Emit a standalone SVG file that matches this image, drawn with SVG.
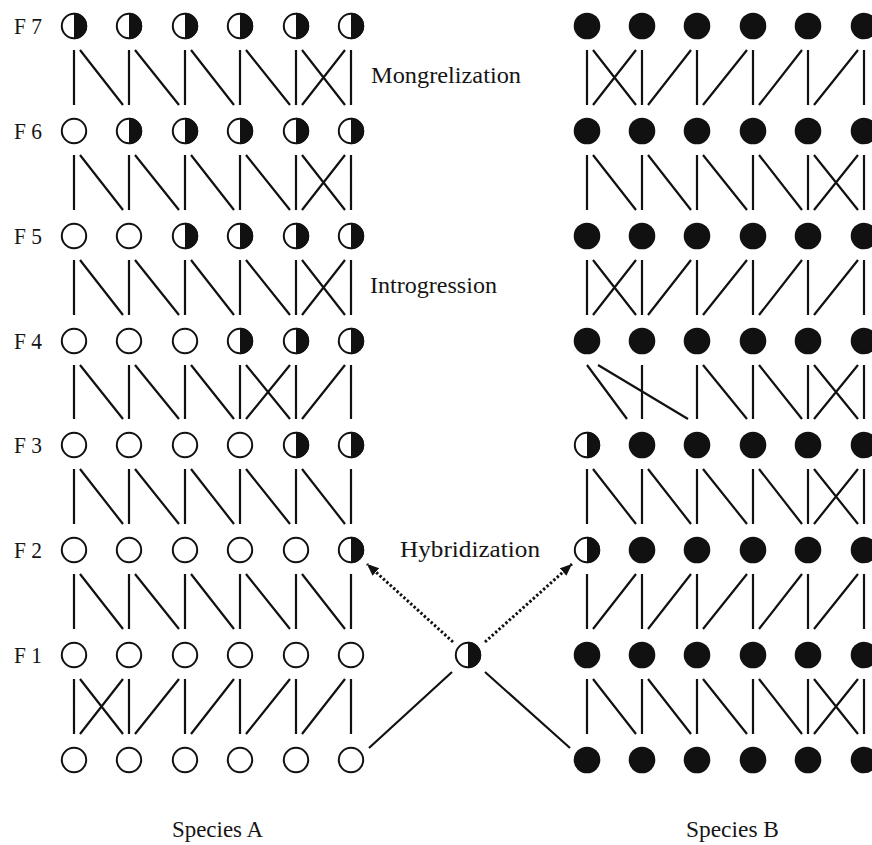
<svg xmlns="http://www.w3.org/2000/svg" width="872" height="845" viewBox="0 0 872 845">
<style>
.ln{fill:none;stroke:#111;stroke-width:2.2;stroke-linecap:butt}
.dot{fill:none;stroke:#111;stroke-width:3;stroke-dasharray:2.4 2.2}
.lab{font-family:"Liberation Serif","Times New Roman",serif;font-size:23px;fill:#151515}
</style>
<defs>
<g id="o"><circle r="12.2" fill="#fff" stroke="#111" stroke-width="2"/></g>
<g id="h"><circle r="12.2" fill="#fff" stroke="#111" stroke-width="2"/><path d="M0 -13.2A13.2 13.2 0 0 1 0 13.2Z" fill="#111"/></g>
<g id="f"><circle r="13.3" fill="#111"/></g>
<marker id="arr" markerUnits="userSpaceOnUse" markerWidth="14" markerHeight="12" refX="12" refY="5" orient="auto"><path d="M0 0L12 5L0 10Z" fill="#111"/></marker>
</defs>
<rect width="872" height="845" fill="#fff"/>
<g id="connectors">
<path class="ln" d="M74 50V105M129 50V105M185 50V105M240 50V105M296 50V105M351 50V105M80 50L123 105M135 50L179 105M191 50L234 105M246 50L290 105M302 50L345 105M302 105L345 50"/>
<path class="ln" d="M74 155V210M129 155V210M185 155V210M240 155V210M296 155V210M351 155V210M80 155L123 210M135 155L179 210M191 155L234 210M246 155L290 210M302 155L345 210M302 210L345 155"/>
<path class="ln" d="M74 260V315M129 260V315M185 260V315M240 260V315M296 260V315M351 260V315M80 260L123 315M135 260L179 315M191 260L234 315M246 260L290 315M302 260L345 315M302 315L345 260"/>
<path class="ln" d="M74 365V419M129 365V419M185 365V419M240 365V419M296 365V419M351 365V419M80 365L123 419M135 365L179 419M191 365L234 419M246 365L290 419M246 419L290 365M302 419L345 365"/>
<path class="ln" d="M74 469V524M129 469V524M185 469V524M240 469V524M296 469V524M351 469V524M80 469L123 524M135 469L179 524M191 469L234 524M246 469L290 524M302 469L345 524"/>
<path class="ln" d="M74 574V629M129 574V629M185 574V629M240 574V629M296 574V629M351 574V629M80 574L123 629M135 574L179 629M191 574L234 629M246 574L290 629M302 574L345 629"/>
<path class="ln" d="M74 679V734M129 679V734M185 679V734M240 679V734M296 679V734M351 679V734M80 679L123 734M80 734L123 679M135 734L179 679M191 734L234 679M246 734L290 679M302 734L345 679"/>
<path class="ln" d="M587 50V105M642 50V105M697 50V105M753 50V105M808 50V105M864 50V105M593 50L636 105M593 105L636 50M648 105L691 50M703 105L747 50M759 105L802 50M814 105L858 50"/>
<path class="ln" d="M587 155V210M642 155V210M697 155V210M753 155V210M808 155V210M864 155V210M593 155L636 210M648 155L691 210M703 155L747 210M759 155L802 210M814 155L858 210M814 210L858 155"/>
<path class="ln" d="M587 260V315M642 260V315M697 260V315M753 260V315M808 260V315M864 260V315M593 260L636 315M593 315L636 260M648 315L691 260M703 315L747 260M759 315L802 260M814 315L858 260"/>
<path class="ln" d="M642 365V419M697 365V419M753 365V419M808 365V419M864 365V419M587 365L627 419M598 365L688 419M703 365L747 419M759 365L802 419M814 365L858 419M814 419L858 365"/>
<path class="ln" d="M587 469V524M642 469V524M697 469V524M753 469V524M808 469V524M864 469V524M593 469L636 524M648 469L691 524M703 469L747 524M759 469L802 524M814 469L858 524M814 524L858 469"/>
<path class="ln" d="M587 574V629M642 574V629M697 574V629M753 574V629M808 574V629M864 574V629M593 629L636 574M648 629L691 574M703 629L747 574M759 629L802 574M814 629L858 574"/>
<path class="ln" d="M587 679V734M642 679V734M697 679V734M753 679V734M808 679V734M864 679V734M593 679L636 734M648 679L691 734M703 679L747 734M759 679L802 734M814 679L858 734M814 734L858 679"/>
<path class="ln" d="M369 748L452 672M485 672L570 748"/>
<path class="dot" d="M453 642L367 564" marker-end="url(#arr)"/>
<path class="dot" d="M485 642L572 564" marker-end="url(#arr)"/>
</g>
<g id="speciesA">
<use id="a7-1" href="#h" x="74" y="26"/><use id="a7-2" href="#h" x="129" y="26"/><use id="a7-3" href="#h" x="185" y="26"/><use id="a7-4" href="#h" x="240" y="26"/><use id="a7-5" href="#h" x="296" y="26"/><use id="a7-6" href="#h" x="351" y="26"/>
<use id="a6-1" href="#o" x="74" y="131"/><use id="a6-2" href="#h" x="129" y="131"/><use id="a6-3" href="#h" x="185" y="131"/><use id="a6-4" href="#h" x="240" y="131"/><use id="a6-5" href="#h" x="296" y="131"/><use id="a6-6" href="#h" x="351" y="131"/>
<use id="a5-1" href="#o" x="74" y="236"/><use id="a5-2" href="#o" x="129" y="236"/><use id="a5-3" href="#h" x="185" y="236"/><use id="a5-4" href="#h" x="240" y="236"/><use id="a5-5" href="#h" x="296" y="236"/><use id="a5-6" href="#h" x="351" y="236"/>
<use id="a4-1" href="#o" x="74" y="341"/><use id="a4-2" href="#o" x="129" y="341"/><use id="a4-3" href="#o" x="185" y="341"/><use id="a4-4" href="#h" x="240" y="341"/><use id="a4-5" href="#h" x="296" y="341"/><use id="a4-6" href="#h" x="351" y="341"/>
<use id="a3-1" href="#o" x="74" y="445"/><use id="a3-2" href="#o" x="129" y="445"/><use id="a3-3" href="#o" x="185" y="445"/><use id="a3-4" href="#o" x="240" y="445"/><use id="a3-5" href="#h" x="296" y="445"/><use id="a3-6" href="#h" x="351" y="445"/>
<use id="a2-1" href="#o" x="74" y="550"/><use id="a2-2" href="#o" x="129" y="550"/><use id="a2-3" href="#o" x="185" y="550"/><use id="a2-4" href="#o" x="240" y="550"/><use id="a2-5" href="#o" x="296" y="550"/><use id="a2-6" href="#h" x="351" y="550"/>
<use id="a1-1" href="#o" x="74" y="655"/><use id="a1-2" href="#o" x="129" y="655"/><use id="a1-3" href="#o" x="185" y="655"/><use id="a1-4" href="#o" x="240" y="655"/><use id="a1-5" href="#o" x="296" y="655"/><use id="a1-6" href="#o" x="351" y="655"/>
<use id="a0-1" href="#o" x="74" y="760"/><use id="a0-2" href="#o" x="129" y="760"/><use id="a0-3" href="#o" x="185" y="760"/><use id="a0-4" href="#o" x="240" y="760"/><use id="a0-5" href="#o" x="296" y="760"/><use id="a0-6" href="#o" x="351" y="760"/>
</g>
<g id="speciesB">
<use id="b7-1" href="#f" x="587" y="26"/><use id="b7-2" href="#f" x="642" y="26"/><use id="b7-3" href="#f" x="697" y="26"/><use id="b7-4" href="#f" x="753" y="26"/><use id="b7-5" href="#f" x="808" y="26"/><use id="b7-6" href="#f" x="864" y="26"/>
<use id="b6-1" href="#f" x="587" y="131"/><use id="b6-2" href="#f" x="642" y="131"/><use id="b6-3" href="#f" x="697" y="131"/><use id="b6-4" href="#f" x="753" y="131"/><use id="b6-5" href="#f" x="808" y="131"/><use id="b6-6" href="#f" x="864" y="131"/>
<use id="b5-1" href="#f" x="587" y="236"/><use id="b5-2" href="#f" x="642" y="236"/><use id="b5-3" href="#f" x="697" y="236"/><use id="b5-4" href="#f" x="753" y="236"/><use id="b5-5" href="#f" x="808" y="236"/><use id="b5-6" href="#f" x="864" y="236"/>
<use id="b4-1" href="#f" x="587" y="341"/><use id="b4-2" href="#f" x="642" y="341"/><use id="b4-3" href="#f" x="697" y="341"/><use id="b4-4" href="#f" x="753" y="341"/><use id="b4-5" href="#f" x="808" y="341"/><use id="b4-6" href="#f" x="864" y="341"/>
<use id="b3-1" href="#h" x="587" y="445"/><use id="b3-2" href="#f" x="642" y="445"/><use id="b3-3" href="#f" x="697" y="445"/><use id="b3-4" href="#f" x="753" y="445"/><use id="b3-5" href="#f" x="808" y="445"/><use id="b3-6" href="#f" x="864" y="445"/>
<use id="b2-1" href="#h" x="587" y="550"/><use id="b2-2" href="#f" x="642" y="550"/><use id="b2-3" href="#f" x="697" y="550"/><use id="b2-4" href="#f" x="753" y="550"/><use id="b2-5" href="#f" x="808" y="550"/><use id="b2-6" href="#f" x="864" y="550"/>
<use id="b1-1" href="#f" x="587" y="655"/><use id="b1-2" href="#f" x="642" y="655"/><use id="b1-3" href="#f" x="697" y="655"/><use id="b1-4" href="#f" x="753" y="655"/><use id="b1-5" href="#f" x="808" y="655"/><use id="b1-6" href="#f" x="864" y="655"/>
<use id="b0-1" href="#f" x="587" y="760"/><use id="b0-2" href="#f" x="642" y="760"/><use id="b0-3" href="#f" x="697" y="760"/><use id="b0-4" href="#f" x="753" y="760"/><use id="b0-5" href="#f" x="808" y="760"/><use id="b0-6" href="#f" x="864" y="760"/>
</g>
<g id="hybrid"><use href="#h" x="468" y="655"/></g>
<g id="labels">
<text class="lab" x="14" y="34" textLength="28" lengthAdjust="spacingAndGlyphs">F 7</text>
<text class="lab" x="14" y="139" textLength="28" lengthAdjust="spacingAndGlyphs">F 6</text>
<text class="lab" x="14" y="244" textLength="28" lengthAdjust="spacingAndGlyphs">F 5</text>
<text class="lab" x="14" y="349" textLength="28" lengthAdjust="spacingAndGlyphs">F 4</text>
<text class="lab" x="14" y="453" textLength="28" lengthAdjust="spacingAndGlyphs">F 3</text>
<text class="lab" x="14" y="558" textLength="28" lengthAdjust="spacingAndGlyphs">F 2</text>
<text class="lab" x="14" y="663" textLength="28" lengthAdjust="spacingAndGlyphs">F 1</text>
<text class="lab" x="371" y="83" textLength="150" lengthAdjust="spacingAndGlyphs">Mongrelization</text>
<text class="lab" x="370" y="293" textLength="127" lengthAdjust="spacingAndGlyphs">Introgression</text>
<text class="lab" x="400" y="557" textLength="140" lengthAdjust="spacingAndGlyphs">Hybridization</text>
<text class="lab" x="172" y="837" textLength="91" lengthAdjust="spacingAndGlyphs">Species A</text>
<text class="lab" x="686" y="837" textLength="93" lengthAdjust="spacingAndGlyphs">Species B</text>
</g>
</svg>
